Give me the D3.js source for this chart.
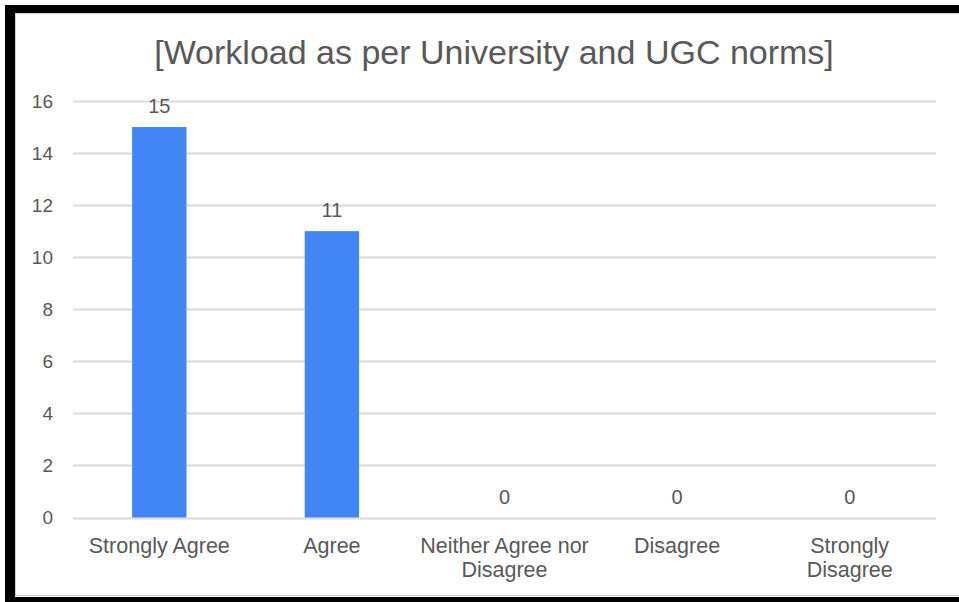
<!DOCTYPE html>
<html>
<head>
<meta charset="utf-8">
<script src="https://cdn.jsdelivr.net/npm/d3@7"></script>
<style>
body { margin: 0; background: #fff; }
text { font-family: "Liberation Sans", Arial, sans-serif; fill: #595959; }
</style>
</head>
<body>
<div id="chart"></div>
<script>
var categories = ["Strongly Agree", "Agree", "Neither Agree nor Disagree", "Disagree", "Strongly Disagree"];
var labelLines = [["Strongly Agree"], ["Agree"], ["Neither Agree nor", "Disagree"], ["Disagree"], ["Strongly", "Disagree"]];
var values = [15, 11, 0, 0, 0];
var yTicks = [0, 2, 4, 6, 8, 10, 12, 14, 16];
var title = "[Workload as per University and UGC norms]";

var W = 959, H = 602;
var margin = {top: 101, right: 23, bottom: 85, left: 73};

var svg = d3.select("#chart").append("svg")
    .attr("width", W)
    .attr("height", H);

// frame
svg.append("rect").attr("x", 5).attr("y", 5).attr("width", W - 5).attr("height", 8).attr("fill", "#000");
svg.append("rect").attr("x", 5).attr("y", 5).attr("width", 10).attr("height", H - 5).attr("fill", "#000");
svg.append("rect").attr("x", 5).attr("y", 597).attr("width", W - 5).attr("height", 5).attr("fill", "#000");
svg.append("rect").attr("x", 15.5).attr("y", 13.5).attr("width", W).attr("height", 582)
    .attr("fill", "none").attr("stroke", "#ccc").attr("stroke-width", 1);

var x = d3.scaleBand()
    .domain(categories)
    .range([margin.left, W - margin.right])
    .padding(0);

var y = d3.scaleLinear()
    .domain([0, 16])
    .range([H - margin.bottom + 0.5, margin.top]);

// title
svg.append("text")
    .attr("x", 494)
    .attr("y", 64)
    .attr("text-anchor", "middle")
    .style("font-size", "34px")
    .text(title);

// grid
svg.append("g")
  .selectAll("line")
  .data(yTicks)
  .enter().append("line")
    .attr("x1", margin.left)
    .attr("x2", W - margin.right)
    .attr("y1", function(d) { return Math.round(y(d)) + 0.5; })
    .attr("y2", function(d) { return Math.round(y(d)) + 0.5; })
    .attr("stroke", "#d9d9d9")
    .attr("stroke-width", 2);

// y axis
var yAxis = svg.append("g")
    .attr("transform", "translate(" + (margin.left - 20) + ",0)")
    .call(d3.axisLeft(y).tickValues(yTicks).tickSize(0).tickPadding(0));
yAxis.select(".domain").remove();
yAxis.selectAll("text").style("font-size", "19px").attr("fill", "#595959");

// bars
var barW = x.bandwidth() * 0.315;
svg.append("g")
  .selectAll("rect")
  .data(values)
  .enter().append("rect")
    .attr("fill", "#4285f4")
    .attr("x", function(d, i) { return x(categories[i]) + x.bandwidth() / 2 - barW / 2; })
    .attr("width", barW)
    .attr("y", function(d) { return y(d); })
    .attr("height", function(d) { return y(0) - y(d); });

// value labels
svg.append("g")
  .selectAll("text")
  .data(values)
  .enter().append("text")
    .attr("x", function(d, i) { return x(categories[i]) + x.bandwidth() / 2; })
    .attr("y", function(d) { return y(d) - 14; })
    .attr("text-anchor", "middle")
    .style("font-size", "20px")
    .text(function(d) { return d; });

// x labels
var xl = svg.append("g")
  .selectAll("text")
  .data(labelLines)
  .enter().append("text")
    .attr("x", function(d, i) { return x(categories[i]) + x.bandwidth() / 2; })
    .attr("y", y(0) + 35)
    .attr("text-anchor", "middle")
    .style("font-size", "21.5px");
xl.selectAll("tspan")
  .data(function(d) { return d; })
  .enter().append("tspan")
    .attr("x", function() { return d3.select(this.parentNode).attr("x"); })
    .attr("dy", function(d, i) { return i ? 24 : 0; })
    .text(function(d) { return d; });
</script>
</body>
</html>
